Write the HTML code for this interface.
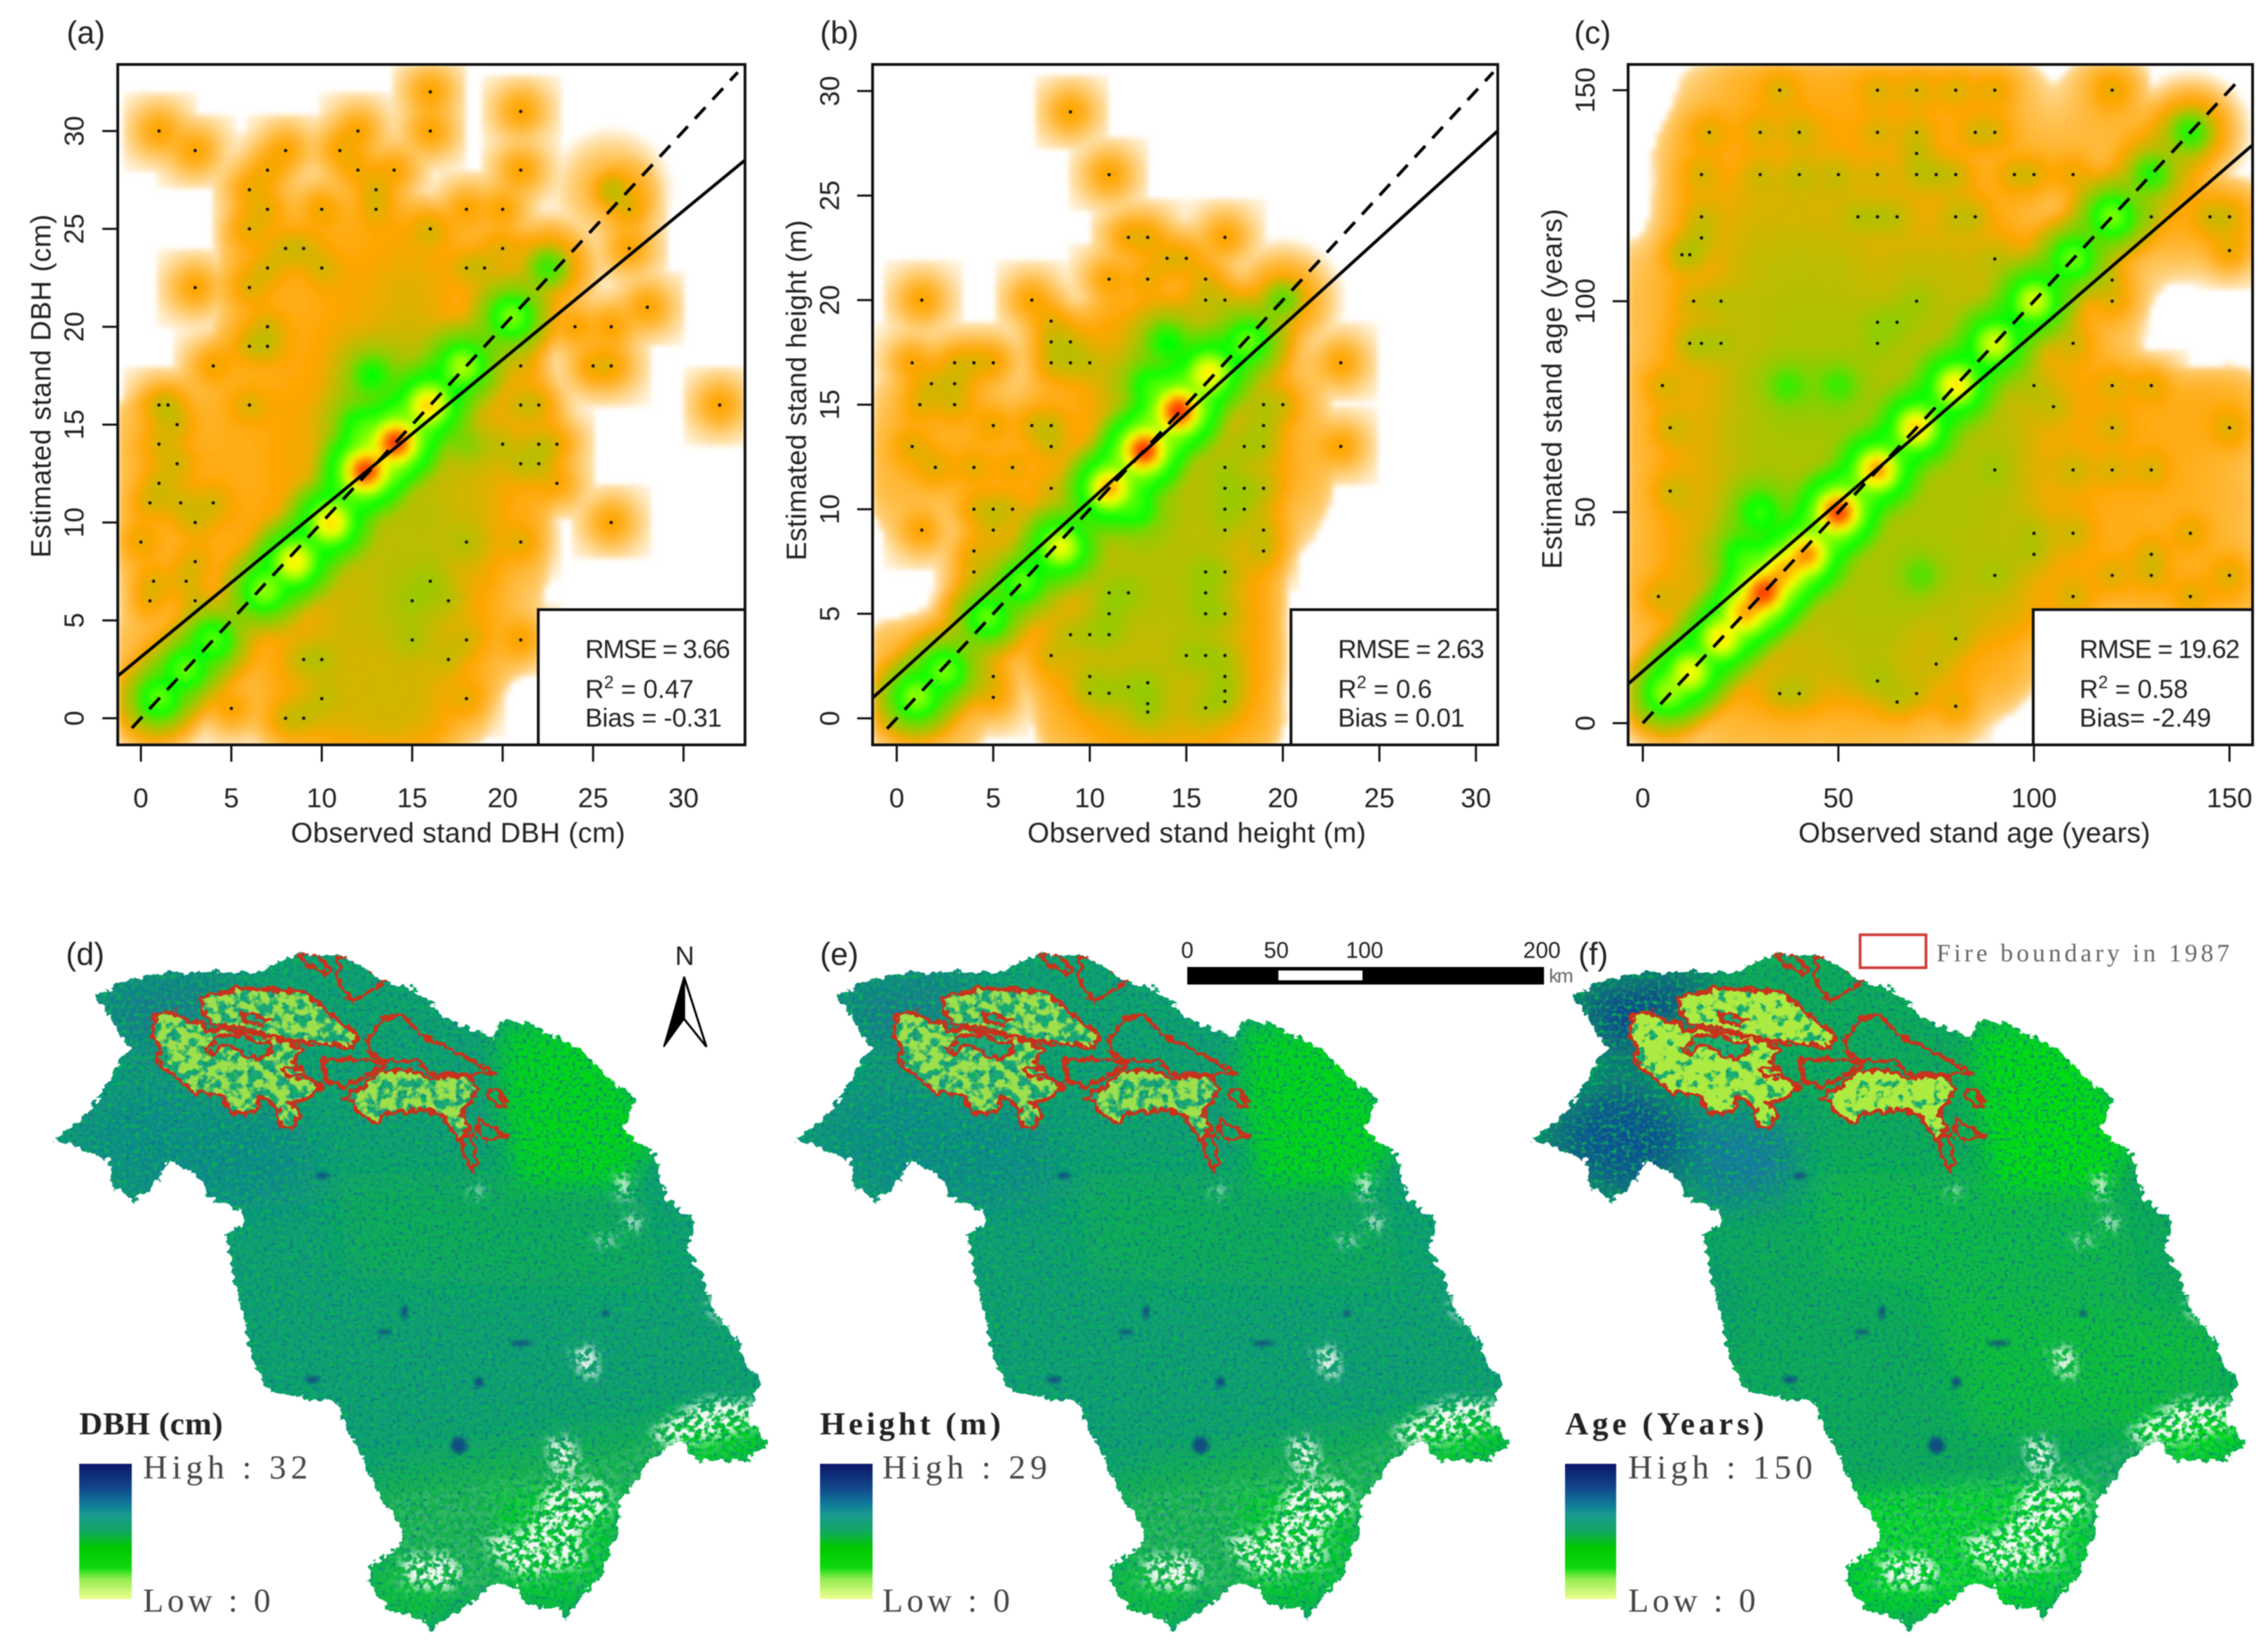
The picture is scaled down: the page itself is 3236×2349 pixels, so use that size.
<!DOCTYPE html>
<html lang="en">
<head>
<meta charset="utf-8">
<title>Stand attribute validation and maps</title>
<style>
html,body{margin:0;padding:0;background:#fff;}
svg{display:block;filter:blur(0.9px);}
text{font-family:"Liberation Sans",sans-serif;fill:#222;}
.serif{font-family:"Liberation Serif",serif;}
</style>
</head>
<body>
<svg id="figure" xmlns="http://www.w3.org/2000/svg" width="3236" height="2349" viewBox="0 0 3236 2349">
<defs>
  <filter id="heat-blur" x="-5%" y="-5%" width="110%" height="110%"><feGaussianBlur stdDeviation="4"/></filter>
  <filter id="soft" x="-30%" y="-30%" width="160%" height="160%"><feGaussianBlur stdDeviation="40"/></filter>
  <filter id="soft-ne" x="-30%" y="-30%" width="160%" height="160%"><feGaussianBlur stdDeviation="24"/></filter>
  <filter id="soft-small" x="-50%" y="-50%" width="200%" height="200%"><feGaussianBlur stdDeviation="4"/></filter>
  <filter id="soft-mask" x="-30%" y="-30%" width="160%" height="160%"><feGaussianBlur stdDeviation="12"/></filter>
  <filter id="jag" x="-5%" y="-5%" width="110%" height="110%">
    <feTurbulence type="fractalNoise" baseFrequency="0.06" numOctaves="3" seed="4" result="n"/>
    <feDisplacementMap in="SourceGraphic" in2="n" scale="26" xChannelSelector="R" yChannelSelector="G"/>
  </filter>
  <filter id="jag-small" x="-5%" y="-5%" width="110%" height="110%">
    <feTurbulence type="fractalNoise" baseFrequency="0.07" numOctaves="2" seed="9" result="n"/>
    <feDisplacementMap in="SourceGraphic" in2="n" scale="22" xChannelSelector="R" yChannelSelector="G"/>
  </filter>
  <filter id="grain-dark" x="0" y="0" width="100%" height="100%" color-interpolation-filters="sRGB">
    <feTurbulence type="fractalNoise" baseFrequency="0.13" numOctaves="2" seed="3"/>
    <feColorMatrix values="0 0 0 0 0.05  0 0 0 0 0.47  0 0 0 0 0.52  3 0 0 0 -1.5"/>
  </filter>
  <filter id="grain-bright" x="0" y="0" width="100%" height="100%" color-interpolation-filters="sRGB">
    <feTurbulence type="fractalNoise" baseFrequency="0.11" numOctaves="2" seed="11"/>
    <feColorMatrix values="0 0 0 0 0.04  0 0 0 0 0.72  0 0 0 0 0.3  3 0 0 0 -1.5"/>
  </filter>
  <filter id="white-blotch" x="0" y="0" width="100%" height="100%" color-interpolation-filters="sRGB">
    <feTurbulence type="fractalNoise" baseFrequency="0.075" numOctaves="3" seed="8"/>
    <feColorMatrix values="0 0 0 0 0.95  0 0 0 0 0.98  0 0 0 0 0.95  6 0 0 0 -2.6"/>
  </filter>
  <filter id="fire-blotch" x="0" y="0" width="100%" height="100%" color-interpolation-filters="sRGB">
    <feTurbulence type="fractalNoise" baseFrequency="0.05" numOctaves="3" seed="5"/>
    <feColorMatrix values="0 0 0 0 0.62  0 0 0 0 0.88  0 0 0 0 0.3  6 0 0 0 -2.4"/>
  </filter>
  <filter id="fire-blotch-age" x="0" y="0" width="100%" height="100%" color-interpolation-filters="sRGB">
    <feTurbulence type="fractalNoise" baseFrequency="0.05" numOctaves="3" seed="5"/>
    <feColorMatrix values="0 0 0 0 0.68  0 0 0 0 0.92  0 0 0 0 0.26  7 0 0 0 -2.2"/>
  </filter>
  <mask id="map-mask" maskUnits="userSpaceOnUse" x="0" y="0" width="1600" height="1600">
    <polygon filter="url(#jag)" fill="#fff" points="110,488 150,455 200,400 240,320 260,290 230,240 190,180 250,150 340,130 420,130 520,130 560,110 600,90 690,95 780,150 830,165 870,200 920,240 990,270 1010,235 1060,235 1120,270 1170,290 1220,350 1280,400 1260,470 1320,520 1340,610 1400,660 1385,720 1420,790 1440,850 1480,910 1500,960 1530,1000 1510,1090 1548,1135 1510,1170 1410,1175 1370,1130 1310,1170 1250,1260 1240,1330 1210,1420 1160,1480 1140,1515 1130,1490 1060,1480 1040,1440 990,1440 950,1480 890,1510 870,1540 850,1510 780,1490 740,1430 750,1395 810,1350 810,1320 770,1260 730,1160 690,1090 680,1045 610,1040 540,1020 510,960 490,860 470,780 455,690 490,670 490,640 420,610 400,570 340,530 300,600 270,620 230,590 220,530"/>
  </mask>
  <mask id="south-mask" maskUnits="userSpaceOnUse" x="0" y="0" width="1600" height="1600">
    <g filter="url(#soft-mask)" fill="#fff">
      <polygon fill-opacity="0.12" points="780,1250 1250,1160 1530,1040 1530,1120 1250,1300 1200,1450 780,1460"/>
      <polygon points="810,1380 900,1370 935,1410 900,1450 820,1440"/>
      <polygon points="975,1340 1060,1320 1110,1220 1220,1215 1230,1280 1170,1320 1180,1390 1060,1420 1000,1390"/>
      <polygon points="1100,1130 1150,1120 1170,1190 1120,1210"/>
      <polygon points="1310,1110 1400,1050 1440,1040 1510,1040 1520,1100 1420,1130 1330,1140"/>
      <polygon points="1150,935 1200,930 1205,1000 1170,990"/>
      <polygon points="1242,560 1268,560 1270,620 1245,610"/>
      <polygon points="1430,820 1460,820 1470,880 1430,860"/>
      <polygon points="1260,650 1290,650 1290,680 1260,680"/>
      <polygon points="1200,695 1240,695 1240,712 1200,712"/>
      <polygon points="950,590 975,590 965,615 950,612"/>
    </g>
  </mask>
  <g id="fire-fill">
    <polygon points="405,185 480,165 610,172 720,265 712,292 670,285 600,280 555,265 520,258 470,245 425,242 410,210"/>
    <polygon points="310,225 350,215 380,235 410,240 415,260 450,250 500,262 560,270 610,295 590,320 610,350 650,375 620,400 585,410 605,430 590,465 565,460 560,425 530,395 510,430 465,430 450,395 390,385 345,350 315,320 325,295 305,265"/>
    <polygon points="690,400 730,375 770,340 830,340 870,360 900,345 950,355 960,385 930,430 945,460 925,490 895,440 860,425 780,430 755,450 720,430 710,405"/>
  </g>
  <mask id="fire-mask" maskUnits="userSpaceOnUse" x="0" y="0" width="1600" height="1600">
    <use href="#fire-fill" fill="#fff" filter="url(#jag-small)"/>
    <g fill="#000" filter="url(#jag-small)">
      <polygon points="485,215 540,232 530,243 495,235"/>
      <polygon points="415,300 440,265 490,265 515,280 550,280 540,310 500,315 490,300 450,285 425,305"/>
    </g>
  </mask>
  <g id="fire-lines" fill="none" stroke="#c8321e" stroke-width="8" stroke-linejoin="round" filter="url(#jag-small)">
    <polygon points="405,185 480,165 610,172 720,265 712,292 670,285 600,280 555,265 520,258 470,245 425,242 410,210"/>
    <polygon points="310,225 350,215 380,235 410,240 415,260 450,250 500,262 560,270 610,295 590,320 610,350 650,375 620,400 585,410 605,430 590,465 565,460 560,425 530,395 510,430 465,430 450,395 390,385 345,350 315,320 325,295 305,265"/>
    <polygon points="485,215 540,232 530,243 495,235"/>
    <polygon points="415,300 440,265 490,265 515,280 550,280 540,310 500,315 490,300 450,285 425,305"/>
    <polygon points="690,400 730,375 770,340 830,340 870,360 900,345 950,355 960,385 930,430 945,460 925,490 895,440 860,425 780,430 755,450 720,430 710,405"/>
    <polygon points="650,315 750,320 775,325 750,345 700,375 660,365"/>
    <polygon points="740,280 770,230 810,220 850,265 900,290 995,345 950,350 880,355 840,320 770,320 745,300"/>
    <polygon points="600,92 640,95 665,125 655,135 610,105"/>
    <polygon points="685,95 730,110 778,150 710,195 680,150"/>
    <polygon points="985,380 1005,375 1020,420 1000,415 985,400"/>
    <polygon points="965,445 1020,480 985,490 960,470"/>
    <polygon points="930,480 950,475 960,530 950,560 935,520"/>
    <polygon points="570,340 610,335 612,355 575,352"/>
  </g>
  <g id="dark-spots" fill="#0d3f86" fill-opacity="0.85" filter="url(#soft-small)">
    <ellipse cx="815" cy="855" rx="6" ry="14"/>
    <ellipse cx="775" cy="898" rx="14" ry="5"/>
    <ellipse cx="965" cy="1005" rx="9" ry="11"/>
    <ellipse cx="630" cy="1000" rx="14" ry="7"/>
    <ellipse cx="925" cy="1140" rx="16" ry="18"/>
    <ellipse cx="1050" cy="922" rx="22" ry="5"/>
    <ellipse cx="1220" cy="858" rx="7" ry="7"/>
    <ellipse cx="650" cy="565" rx="14" ry="6"/>
  </g>
  <g id="white-layer">
    <rect width="1568" height="1568" filter="url(#white-blotch)" mask="url(#south-mask)"/>
  </g>
  <linearGradient id="legend-ramp" x1="0" y1="0" x2="0" y2="1">
    <stop offset="0" stop-color="#0a1668"/>
    <stop offset="0.17" stop-color="#124488"/>
    <stop offset="0.3" stop-color="#0f7a9a"/>
    <stop offset="0.38" stop-color="#1a9a90"/>
    <stop offset="0.5" stop-color="#10a860"/>
    <stop offset="0.62" stop-color="#00c800"/>
    <stop offset="0.77" stop-color="#10d810"/>
    <stop offset="0.85" stop-color="#90ec50"/>
    <stop offset="1" stop-color="#f0ff90"/>
  </linearGradient>
</defs>

<g id="charts"></g>

<!-- Map (d) -->
<g transform="translate(0,1300) scale(0.708,0.669)">
  <g mask="url(#map-mask)">
    <rect width="1600" height="1600" fill="#0f9e74"/>
    <g filter="url(#soft)">
      <polygon fill="#0faa5a" points="680,560 1000,560 1300,620 1340,800 1000,800 700,780"/>
      <polygon fill="#12b24e" points="740,1200 1000,1140 1300,1100 1540,1090 1540,1180 1250,1300 1160,1500 750,1500"/>
      <polygon fill="#147a90" points="190,170 420,130 480,130 420,230 300,300 240,280"/>
      <polygon fill="#0f8d88" points="110,480 280,340 620,450 640,620 480,640 270,620"/>
    </g>
    <g filter="url(#soft-ne)">
      <polygon fill="#02d812" points="1010,240 1200,260 1330,480 1260,590 1040,590 1010,400"/>
      <polygon fill="#04d020" points="1320,1090 1530,1060 1560,1160 1400,1190"/>
      <polygon fill="#04cc28" points="1000,1240 1240,1230 1240,1400 1120,1500 1020,1440"/>
      <polygon fill="#0cc238" points="740,1400 930,1400 880,1520 770,1500"/>
    </g>
    <use href="#fire-fill" fill="#1ba87a" filter="url(#jag-small)"/>
    <rect width="1600" height="1600" filter="url(#grain-dark)"/>
    <rect width="1600" height="1600" filter="url(#grain-bright)"/>
    <rect width="1600" height="1600" filter="url(#fire-blotch)" mask="url(#fire-mask)"/>
    <use href="#dark-spots"/>
    <use href="#white-layer" fill="#fff"/>
    <use href="#fire-lines"/>
  </g>
</g>

<!-- Map (e) -->
<g transform="translate(1058,1300) scale(0.708,0.669)">
  <g mask="url(#map-mask)">
    <rect width="1600" height="1600" fill="#0f9e74"/>
    <g filter="url(#soft)">
      <polygon fill="#0faa5a" points="680,560 1000,560 1300,620 1340,800 1000,800 700,780"/>
      <polygon fill="#12b24e" points="740,1200 1000,1140 1300,1100 1540,1090 1540,1180 1250,1300 1160,1500 750,1500"/>
      <polygon fill="#147a90" points="190,170 420,130 480,130 420,230 300,300 240,280"/>
      <polygon fill="#0f8d88" points="110,480 280,340 620,450 640,620 480,640 270,620"/>
    </g>
    <g filter="url(#soft-ne)">
      <polygon fill="#02d812" points="1010,240 1200,260 1330,480 1260,590 1040,590 1010,400"/>
      <polygon fill="#04d020" points="1320,1090 1530,1060 1560,1160 1400,1190"/>
      <polygon fill="#04cc28" points="1000,1240 1240,1230 1240,1400 1120,1500 1020,1440"/>
      <polygon fill="#0cc238" points="740,1400 930,1400 880,1520 770,1500"/>
    </g>
    <use href="#fire-fill" fill="#1ba87a" filter="url(#jag-small)"/>
    <rect width="1600" height="1600" filter="url(#grain-dark)"/>
    <rect width="1600" height="1600" filter="url(#grain-bright)"/>
    <rect width="1600" height="1600" filter="url(#fire-blotch)" mask="url(#fire-mask)"/>
    <use href="#dark-spots"/>
    <use href="#white-layer" fill="#fff"/>
    <use href="#fire-lines"/>
  </g>
</g>

<!-- Map (f) -->
<g transform="translate(2108,1300) scale(0.708,0.669)">
  <g mask="url(#map-mask)">
    <rect width="1600" height="1600" fill="#0ea85a"/>
    <g filter="url(#soft)">
      <polygon fill="#0cba44" points="680,560 1000,560 1300,620 1340,800 1000,800 700,780"/>
      <polygon fill="#0fc038" points="900,800 1450,860 1520,1000 1300,1100 1000,1120"/>
      <polygon fill="#0f3f92" points="190,170 420,130 480,130 420,220 300,320 240,290"/>
      <polygon fill="#0f4f92" points="110,480 280,340 420,420 420,560 280,620 200,560"/>
      <polygon fill="#127aa0" points="420,420 640,450 640,610 460,640 450,860 500,900 460,680"/>
    </g>
    <g filter="url(#soft-ne)">
      <polygon fill="#00e010" points="1005,240 1200,260 1330,480 1270,600 1040,600 1005,400"/>
      <polygon fill="#02dc18" points="1300,1080 1530,1050 1560,1160 1400,1190"/>
      <polygon fill="#02d820" points="740,1240 1240,1210 1240,1400 1120,1500 740,1500"/>
    </g>
    <use href="#fire-fill" fill="#1eb070" filter="url(#jag-small)"/>
    <rect width="1600" height="1600" filter="url(#grain-dark)"/>
    <rect width="1600" height="1600" filter="url(#grain-bright)"/>
    <rect width="1600" height="1600" filter="url(#fire-blotch-age)" mask="url(#fire-mask)"/>
    <use href="#dark-spots"/>
    <use href="#white-layer" fill="#fff"/>
    <use href="#fire-lines"/>
  </g>
</g>

<!-- Panel letters -->
<text x="94" y="1377" font-size="45">(d)</text>
<text x="1170" y="1377" font-size="45">(e)</text>
<text x="2252" y="1377" font-size="45">(f)</text>

<!-- Legends -->
<g>
  <text class="serif" x="113" y="2047" font-size="46" font-weight="bold" textLength="205">DBH (cm)</text>
  <rect x="113" y="2089" width="75" height="193" fill="url(#legend-ramp)"/>
  <text class="serif" x="204" y="2110" font-size="48" style="fill:#444" textLength="235">High : 32</text>
  <text class="serif" x="204" y="2300" font-size="48" style="fill:#444" textLength="182">Low : 0</text>
</g>
<g>
  <text class="serif" x="1170" y="2047" font-size="46" font-weight="bold" textLength="258">Height (m)</text>
  <rect x="1170" y="2089" width="75" height="193" fill="url(#legend-ramp)"/>
  <text class="serif" x="1259" y="2110" font-size="48" style="fill:#444" textLength="235">High : 29</text>
  <text class="serif" x="1259" y="2300" font-size="48" style="fill:#444" textLength="182">Low : 0</text>
</g>
<g>
  <text class="serif" x="2233" y="2047" font-size="46" font-weight="bold" textLength="284">Age (Years)</text>
  <rect x="2233" y="2089" width="73" height="193" fill="url(#legend-ramp)"/>
  <text class="serif" x="2323" y="2110" font-size="48" style="fill:#444" textLength="263">High : 150</text>
  <text class="serif" x="2323" y="2300" font-size="48" style="fill:#444" textLength="182">Low : 0</text>
</g>

<!-- North arrow -->
<g>
  <text x="977" y="1377" font-size="38" text-anchor="middle">N</text>
  <polygon points="976,1394 947,1494 976,1454" fill="#000" stroke="#000" stroke-width="2"/>
  <polygon points="976,1394 1008,1494 976,1454" fill="#fff" stroke="#000" stroke-width="3"/>
</g>

<!-- Scale bar -->
<g>
  <rect x="1694" y="1380" width="509" height="25" fill="#000"/>
  <rect x="1824" y="1385" width="120" height="14" fill="#fff"/>
  <text x="1694" y="1367" font-size="32" text-anchor="middle">0</text>
  <text x="1821" y="1367" font-size="32" text-anchor="middle">50</text>
  <text x="1947" y="1367" font-size="32" text-anchor="middle">100</text>
  <text x="2200" y="1367" font-size="32" text-anchor="middle">200</text>
  <text x="2210" y="1402" font-size="28" style="fill:#666" textLength="35">km</text>
</g>

<!-- Fire legend -->
<g>
  <rect x="2654" y="1334" width="94" height="47" fill="none" stroke="#cf3f3f" stroke-width="4"/>
  <text class="serif" x="2763" y="1372" font-size="36" style="fill:#666" textLength="418">Fire boundary in 1987</text>
</g>

<script>
/* Panel (a): observed vs estimated stand DBH */
const aXTicks = [0, 5, 10, 15, 20, 25, 30];
const aYTicks = [0, 5, 10, 15, 20, 25, 30];
const aDotObs = [1,3,8,11,12,16,16,21,7,12,14,21,6,13,7,10,13,18,20,27,6,16,8,9,20,27,7,10,18,19,3,6,7,24,26,28,6,7,4,21,25,26,1,1.5,6,21,22,32,2,1,20,22,23,2,21,22,1,23,0.5,2.2,4,3,26,0,18,21,3,0.7,2.5,16,0.5,3,15,17,15,18,21,9,10,17,10,18,5,8,9];
const aDotEst = [30,29,29,29,30,32,30,31,28,28,28,28,27,27,26,26,26,26,26,26,25,25,24,24,24,24,23,23,23,23,22,22,20,20,20,21,19,19,18,18,18,18,16,16,16,16,16,16,15,14,14,14,14,13,13,13,12,12,11,11,11,10,10,9,9,9,8,7,7,7,6,6,6,6,4,4,4,3,3,3,1,1,0.5,0,0];
const aRidgeObs = [1,2.5,4,6.8,8.5,10.5,12.4,14.1,15.9,17.8,20.5,22.5,26,12.8,12,18];
const aRidgeEst = [1,2.5,4,6.5,8,10,12.6,14.1,16,18,20.5,23,27,17.5,15,14];
const aRidgeCount = [30,30,28,40,85,95,200,200,100,50,38,10,2,14,14,3];
const aCloudObs = [0,3,6,9,12,15,18,21,24,27,30];
const aCloudEst = [30,27,24,21,18,15,12,9,6,3,0];
const aCloudCounts = [
  [0,0,0,0,0,0,0,0,0,0,0],
  [0,0,0.4,0.4,0.4,0.3,0,0,0,0.8,0],
  [0,0,0.8,0.8,1.2,1.5,0.8,0.5,0,0,0],
  [0,0,0.8,1,1.5,2,1,0.6,0,0,0],
  [0,0.4,0.8,1.2,2,2.8,1.5,0.8,0,0,0],
  [0.7,0.8,1,1.5,2.5,3,2,1,0.3,0,0],
  [0.7,1,1,1.5,2.5,3,2.2,1.2,0,0,0],
  [0.7,0.8,1.2,1.5,2.5,3,2.2,0.8,0,0,0],
  [0.4,0.4,0.8,1.5,2.5,3,1.5,0.5,0,0,0],
  [0.8,0.5,0.8,1.5,2.2,2.2,1,0.4,0,0,0],
  [0.8,0.3,0.4,1.2,2.2,2.2,0.6,0,0,0,0]
];
const aFitSlope = 0.76;
const aFitIntercept = 3.13;

/* Panel (b): observed vs estimated stand height */
const bXTicks = [0, 5, 10, 15, 20, 25, 30];
const bYTicks = [0, 5, 10, 15, 20, 25, 30];
const bDotObs = [9,11,12,13,17,14,15,11,13,16,1.3,7,16,17,8,8,9,0.8,3,4,5,8,9,10,23,1.8,3,1.2,3,19,20,5,7,8,19,0.8,8,18,19,23,2,4,6,17,8,11,17,18,19,4,5,6,17,18,1.3,5,17,19,4,19,4,16,17,11,12,16,11,16,17,9,10,11,8,15,16,17,5,10,13,17,12,5,10,11,17,17,13,13,16];
const bDotEst = [29,26,23,23,23,22,22,21,21,21,20,20,20,20,19,18,18,17,17,17,17,17,17,17,17,16,16,15,15,15,15,14,14,14,14,13,13,13,13,13,12,12,12,12,11,11,11,11,11,10,10,10,10,10,9,9,9,9,8,8,7,7,7,6,6,6,5,5,5,4,4,4,3,3,3,3,2,2,1.7,2,1.5,1,1.2,1.2,1.3,0.8,0.7,0.3,0.5];
const bRidgeObs = [1,2.5,4.7,6.5,8.5,11,12.8,14.6,16.2,18.2,20,14,13,12.5];
const bRidgeEst = [1,2.3,4.8,6.5,8.2,11,12.8,14.7,16.5,18,20,18,16,10];
const bRidgeCount = [42,34,32,30,75,120,210,210,85,32,7,14,14,14];
const bCloudObs = [0,3,6,9,12,15,18,21,24,27,30];
const bCloudEst = [30,27,24,21,18,15,12,9,6,3,0];
const bCloudCounts = [
  [0,0,0,0,0,0,0,0,0,0,0],
  [0,0,0,0,0,0,0,0,0,0,0],
  [0,0,0,0,0,0,0,0,0,0,0],
  [0,0,0,0,0.5,0.5,0.3,0,0,0,0],
  [0,0,0,0.8,1.8,2.5,1.8,0.4,0,0,0],
  [0.6,0.8,0.5,1,2.4,3,2,0.6,0,0,0],
  [0.8,0.8,0.6,1,2.4,3,2,0.8,0,0,0],
  [0.4,0.2,0.8,1.5,3,3,1.5,0.4,0,0,0],
  [0,0.4,0.8,1.8,3,3,1.5,0,0,0,0],
  [0.8,0.8,0.4,1.5,2.5,2.5,1.5,0,0,0,0],
  [0.8,0.8,0,1,2,2.2,1.2,0,0,0,0]
];
const bFitSlope = 0.8377;
const bFitIntercept = 2.02;

/* Panel (c): observed vs estimated stand age */
const cXTicks = [0, 50, 100, 150];
const cYTicks = [0, 50, 100, 150];
const cDotObs = [35,60,70,80,90,120,17,30,40,60,70,85,90,70,15,30,40,50,60,70,75,80,95,100,110,15,55,60,65,80,85,130,145,150,15,10,12,90,150,120,13,20,70,120,60,65,12,15,20,60,110,5,100,120,130,105,7,120,150,90,110,120,130,7,100,110,140,100,130,90,120,130,150,4,110,140,80,75,60,35,40,70,65,80];
const cDotEst = [150,150,150,150,150,150,140,140,140,140,140,140,140,135,130,130,130,130,130,130,130,130,130,130,130,120,120,120,120,120,120,120,120,120,115,111,111,110,112,105,100,100,100,100,95,95,90,90,90,90,90,80,80,80,80,75,70,70,70,60,60,60,60,55,45,45,45,40,40,35,35,35,35,30,30,30,20,14,10,7,7,7,5,4];
const cRidgeObs = [6,12,20,26,31,36,42,50,60,70,80,90,100,110,120,130,140,30,25,50,37,71];
const cRidgeEst = [7,12,20,26,31,36,40,50,60,70,80,90,100,110,120,130,140,50,40,80,80,35];
const cRidgeCount = [40,75,85,100,180,90,130,200,130,100,90,65,65,34,38,12,12,20,16,7,7,5];
const cCloudObs = [0,15,30,45,60,75,90,105,120,135,150];
const cCloudEst = [150,135,120,105,90,75,60,45,30,15,0];
const cCloudCounts = [
  [0,0.5,1,1,1,1,0.8,0.3,0.8,0.1,0],
  [0.2,1,1,1.5,1,1,0.7,0.7,0.6,1.2,0],
  [0.2,1.2,2.2,2.2,1.5,1.5,1,0.5,0.5,1,1],
  [0.6,1.2,2.8,3,2.5,2.8,2.2,1.5,0.6,0.3,0.3],
  [0.6,1.5,3,3.3,3,3,2.8,1.5,0.6,0,0],
  [0.7,1.8,3.3,3.8,3.3,3.3,3,1.5,1,1,1],
  [0.7,1.8,3.3,3.3,3.3,3.3,3,1.5,1,1,0.7],
  [0.7,2,3,3.3,3.3,3.3,3,1.5,1,0.8,0.7],
  [0.7,2,2.8,3,3.3,3,2.5,1.2,0.8,0.8,1],
  [0.6,1.5,1.8,2.5,3,1.5,1,0.3,0,0,0],
  [0.5,0.6,0.8,0.8,0.8,0.6,0.3,0,0,0,0]
];
const cFitSlope = 0.80;
const cFitIntercept = 12.3;

/* Colour ramp levels of the density image */
const rampLevels = [[255,255,255],[255,165,0],[0,255,0],[255,255,0],[255,0,0]];
const fullScaleCount = 256;
const cloudFloor = 0.3;

const SVGNS = 'http://www.w3.org/2000/svg';
const chartRoot = document.getElementById('charts');

function make(tag, parent, attrs) {
  const el = document.createElementNS(SVGNS, tag);
  for (const k in attrs) el.setAttribute(k, attrs[k]);
  parent.appendChild(el);
  return el;
}

function rampColor(v) {
  const t = Math.max(0, Math.min(1, v)) * (rampLevels.length - 1);
  const i = Math.min(rampLevels.length - 2, Math.floor(t));
  const f = t - i;
  const a = rampLevels[i], b = rampLevels[i + 1];
  return 'rgb(' + Math.round(a[0] + (b[0] - a[0]) * f) + ',' + Math.round(a[1] + (b[1] - a[1]) * f) + ',' + Math.round(a[2] + (b[2] - a[2]) * f) + ')';
}

function pow4(u) { return u * u * u * u; }

function drawPanel(p) {
  const g = make('g', chartRoot, {});
  
  

  const sx = (p.fr - p.fl) / (p.xlim[1] - p.xlim[0]);
  const sy = (p.fb - p.ft) / (p.ylim[1] - p.ylim[0]);
  const X = v => p.fl + (v - p.xlim[0]) * sx;
  const Y = v => p.fb - (v - p.ylim[0]) * sy;

  /* density */
  const clipId = 'clip-' + p.id;
  const cp = make('clipPath', chartRoot, { id: clipId });
  make('rect', cp, { x: p.fl, y: p.ft, width: p.fr - p.fl, height: p.fb - p.ft });
  const clipG = make('g', g, { 'clip-path': 'url(#' + clipId + ')' });
  const heat = make('g', clipG, { filter: 'url(#heat-blur)' });
  
  

  const kernels = [];
  p.dotObs.forEach((o, i) => {
    kernels.push({ x: X(o), y: Y(p.dotEst[i]), w: 1, type: 0 });
  });
  p.ridgeObs.forEach((o, i) => {
    kernels.push({ x: X(o), y: Y(p.ridgeEst[i]), w: p.ridgeCount[i], type: 1 });
  });
  const gapX = Math.abs(X(p.cloudObs[1]) - X(p.cloudObs[0]));
  const gapY = Math.abs(Y(p.cloudEst[1]) - Y(p.cloudEst[0]));
  p.cloudCounts.forEach((row, r) => {
    row.forEach((c, k) => {
      if (c > 0) kernels.push({ x: X(p.cloudObs[k]), y: Y(p.cloudEst[r]), w: c * 0.83, type: 2 });
    });
  });
  const cell = 8;
  const frag = document.createDocumentFragment();
  for (let py = p.ft; py < p.fb; py += cell) {
    for (let px = p.fl; px < p.fr; px += cell) {
      const cx = px + cell / 2, cy = py + cell / 2;
      let d = 0, dc = 0;
      for (let n = 0; n < kernels.length; n++) {
        const K = kernels[n];
        const dx = cx - K.x, dy = cy - K.y;
        if (K.type === 0) {
          if (Math.abs(dx) < 54 && Math.abs(dy) < 54) d += K.w * Math.exp(-(dx * dx + dy * dy) / (2 * 18 * 18));
        } else if (K.type === 1) {
          const r2 = dx * dx + dy * dy;
          const q1 = r2 / (46 * 46), q2 = r2 / (92 * 92);
          if (q1 < 1) d += K.w * 0.75 * pow4(1 - q1);
          if (q2 < 1) d += K.w * 0.25 * pow4(1 - q2);
        } else {
          const q = dx * dx / (1.5625 * gapX * gapX) + dy * dy / (1.5625 * gapY * gapY);
          if (q < 1) { const u = 1 - q; dc += K.w * u * u * u; }
        }
      }
      d += Math.max(0, dc - cloudFloor);
      const v = Math.pow(d / fullScaleCount, 0.25);
      if (v < 0.012) continue;
      const rc = document.createElementNS(SVGNS, 'rect');
      rc.setAttribute('x', px);
      rc.setAttribute('y', py);
      rc.setAttribute('width', cell + 0.5);
      rc.setAttribute('height', cell + 0.5);
      rc.setAttribute('fill', rampColor(v));
      
      
      frag.appendChild(rc);
    }
  }
  heat.appendChild(frag);

  /* outlier dots */
  const dots = make('g', clipG, {});
  
  
  p.dotObs.forEach((o, i) => {
    const c = make('circle', dots, { cx: X(o), cy: Y(p.dotEst[i]), r: 2.4, fill: '#111' });
    
    
  });

  /* reference lines */
  const lines = make('g', clipG, {});
  const oneToOne = make('line', lines, {
    x1: X(p.dash[0]), y1: Y(p.dash[0]), x2: X(p.dash[1]), y2: Y(p.dash[1]),
    stroke: '#000', 'stroke-width': 4.5, 'stroke-dasharray': '22 15'
  });
  
  
  const fit = make('line', lines, {
    x1: X(p.xlim[0]), y1: Y(p.slope * p.xlim[0] + p.intercept),
    x2: X(p.xlim[1]), y2: Y(p.slope * p.xlim[1] + p.intercept),
    stroke: '#000', 'stroke-width': 4.5
  });
  
  

  /* stats box */
  const box = make('rect', g, {
    x: p.boxX, y: 870, width: p.fr - p.boxX, height: p.fb - 870,
    fill: '#fff', stroke: '#111', 'stroke-width': 4
  });
  
  

  /* frame */
  const frame = make('rect', g, {
    x: p.fl, y: p.ft, width: p.fr - p.fl, height: p.fb - p.ft,
    fill: 'none', stroke: '#111', 'stroke-width': 4
  });
  
  

  /* stat text */
  const rm = make('text', g, { x: p.statX, y: 939, 'font-size': 37, textLength: p.rmseLen });
  rm.textContent = p.rmse;
  
  
  const r2 = make('text', g, { x: p.statX, y: 996, 'font-size': 37 });
  
  
  const t1 = make('tspan', r2, {}); t1.textContent = 'R';
  const t2 = make('tspan', r2, { dy: -14, 'font-size': 25 }); t2.textContent = '2';
  const t3 = make('tspan', r2, { dy: 14 }); t3.textContent = ' = ' + p.r2;
  const bi = make('text', g, { x: p.statX, y: 1037, 'font-size': 37, textLength: p.biasLen });
  bi.textContent = p.bias;
  
  

  /* ticks */
  p.xTicks.forEach(t => {
    const tk = make('line', g, { x1: X(t), x2: X(t), y1: p.fb, y2: p.fb + 24, stroke: '#111', 'stroke-width': 3 });
    
    
    const lb = make('text', g, { x: X(t), y: 1152, 'font-size': 39, 'text-anchor': 'middle' });
    lb.textContent = t;
    
    
  });
  p.yTicks.forEach(t => {
    const tk = make('line', g, { x1: p.fl - 22, x2: p.fl, y1: Y(t), y2: Y(t), stroke: '#111', 'stroke-width': 3 });
    
    
    const lb = make('text', g, {
      x: 0, y: 0, 'font-size': 39, 'text-anchor': 'middle',
      transform: 'translate(' + p.yTickBase + ',' + Y(t) + ') rotate(-90)'
    });
    lb.textContent = t;
    
    
  });

  /* titles */
  const xt = make('text', g, { x: p.xTitle[0], y: 1202, 'font-size': 40, textLength: p.xTitle[1] - p.xTitle[0] });
  xt.textContent = p.xLabel;
  
  
  const yt = make('text', g, {
    x: 0, y: 0, 'font-size': 40, textLength: p.yTitle[1] - p.yTitle[0],
    transform: 'translate(' + p.yTitleBase + ',' + p.yTitle[1] + ') rotate(-90)'
  });
  yt.textContent = p.yLabel;
  
  
  const pl = make('text', g, { x: p.letterX, y: 62, 'font-size': 45 });
  pl.textContent = p.letter;
  
  
}

drawPanel({
  id: 'a', letter: '(a)', letterX: 95, fl: 168, fr: 1063, ft: 92, fb: 1063,
  xlim: [-1.28, 33.4], ylim: [-1.36, 33.4], dash: [-0.5, 33],
  dotObs: aDotObs, dotEst: aDotEst, ridgeObs: aRidgeObs, ridgeEst: aRidgeEst, ridgeCount: aRidgeCount,
  cloudObs: aCloudObs, cloudEst: aCloudEst, cloudCounts: aCloudCounts,
  slope: aFitSlope, intercept: aFitIntercept, xTicks: aXTicks, yTicks: aYTicks,
  boxX: 768, statX: 835, rmse: 'RMSE = 3.66', rmseLen: 207, r2: '0.47', bias: 'Bias = -0.31', biasLen: 195,
  xLabel: 'Observed stand  DBH (cm)', yLabel: 'Estimated  stand DBH (cm)',
  xTitle: [415, 892], yTitle: [306, 796], yTitleBase: 72, yTickBase: 119
});
drawPanel({
  id: 'b', letter: '(b)', letterX: 1170, fl: 1245, fr: 2137, ft: 92, fb: 1063,
  xlim: [-1.25, 31.13], ylim: [-1.27, 31.27], dash: [-0.5, 30.9],
  dotObs: bDotObs, dotEst: bDotEst, ridgeObs: bRidgeObs, ridgeEst: bRidgeEst, ridgeCount: bRidgeCount,
  cloudObs: bCloudObs, cloudEst: bCloudEst, cloudCounts: bCloudCounts,
  slope: bFitSlope, intercept: bFitIntercept, xTicks: bXTicks, yTicks: bYTicks,
  boxX: 1842, statX: 1909, rmse: 'RMSE = 2.63', rmseLen: 209, r2: '0.6', bias: 'Bias = 0.01', biasLen: 181,
  xLabel: 'Observed  stand height (m)', yLabel: 'Estimated stand height (m)',
  xTitle: [1466, 1949], yTitle: [314, 800], yTitleBase: 1150, yTickBase: 1197
});
drawPanel({
  id: 'c', letter: '(c)', letterX: 2246, fl: 2323, fr: 3214, ft: 92, fb: 1063,
  xlim: [-3.76, 155.9], ylim: [-5.15, 156.1], dash: [0, 152],
  dotObs: cDotObs, dotEst: cDotEst, ridgeObs: cRidgeObs, ridgeEst: cRidgeEst, ridgeCount: cRidgeCount,
  cloudObs: cCloudObs, cloudEst: cCloudEst, cloudCounts: cCloudCounts,
  slope: cFitSlope, intercept: cFitIntercept, xTicks: cXTicks, yTicks: cYTicks,
  boxX: 2901, statX: 2967, rmse: 'RMSE = 19.62', rmseLen: 229, r2: '0.58', bias: 'Bias= -2.49', biasLen: 188,
  xLabel: 'Observed stand age (years)', yLabel: 'Estimated  stand age (years)',
  xTitle: [2566, 3068], yTitle: [298, 812], yTitleBase: 2228, yTickBase: 2275
});
</script>
</svg>
</body>
</html>
